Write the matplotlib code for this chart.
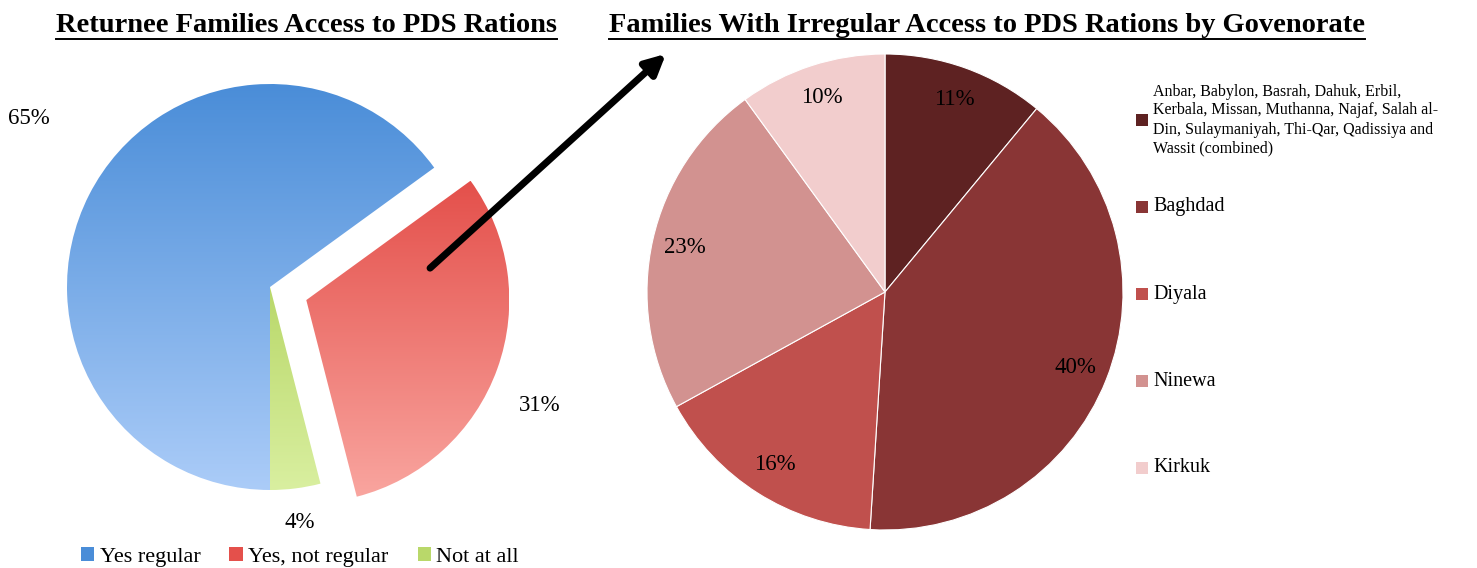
import numpy as np
import matplotlib.pyplot as plt
from matplotlib.colors import LinearSegmentedColormap
from matplotlib.patches import Patch

plt.rcParams['font.family'] = ['Liberation Serif', 'DejaVu Serif']

# left pie: returnee access
access_labels = ['Yes regular', 'Yes, not regular', 'Not at all']
access_values = [65, 31, 4]
access_top = ['#4a8dd8', '#e4504b', '#b9d86a']
access_bottom = ['#abccf8', '#f9a59f', '#d9efa0']

# right pie: irregular access by governorate
gov_labels = ['Anbar, Babylon, Basrah, Dahuk, Erbil,\nKerbala, Missan, Muthanna, Najaf, Salah al-\n'
              'Din, Sulaymaniyah, Thi-Qar, Qadissiya and\nWassit (combined)',
              'Baghdad', 'Diyala', 'Ninewa', 'Kirkuk']
gov_values = [11, 40, 16, 23, 10]
gov_colors = ['#5e2222', '#893535', '#c0504d', '#d29290', '#f2cdcd']

W, H = 1477, 568
fig = plt.figure(figsize=(W / 100, H / 100), dpi=100)


def px_axes(cx, cy, r, span):
    half = r * span
    ax = fig.add_axes([(cx - half) / W, (H - cy - half) / H, 2 * half / W, 2 * half / H])
    ax.axis('off')
    return ax


# ---- left pie with gradient fill
ax1 = px_axes(270, 287, 203, 1.5)
wedges, _ = ax1.pie(access_values, startangle=-90, counterclock=False,
                    explode=[0, 0.19, 0], radius=1,
                    wedgeprops=dict(linewidth=0))
grad = np.linspace(0, 1, 256).reshape(-1, 1)
for w, c0, c1 in zip(wedges, access_top, access_bottom):
    w.set_facecolor('none')
    bb = w.get_path().get_extents()
    cmap = LinearSegmentedColormap.from_list('g', [c1, c0])
    im = ax1.imshow(grad, extent=[bb.x0, bb.x1, bb.y0, bb.y1], origin='lower',
                    cmap=cmap, aspect='auto', interpolation='bilinear')
    im.set_clip_path(w)
ax1.set_xlim(-1.5, 1.5)
ax1.set_ylim(-1.5, 1.5)

label_dist = [1.45, 1.45, 1.17]
label_nudge = [-8, -4, 0]
for w, v, d, n in zip(wedges, access_values, label_dist, label_nudge):
    a = np.deg2rad((w.theta1 + w.theta2) / 2 + n)
    ax1.text(d * np.cos(a), d * np.sin(a), f'{v}%', ha='center', va='center',
             fontsize=16.5)

# ---- right pie
ax2 = px_axes(885, 292, 238, 1.1)
ax2.pie(gov_values, colors=gov_colors, startangle=90, counterclock=False,
        autopct='%.0f%%', pctdistance=0.86, textprops=dict(fontsize=16.5),
        wedgeprops=dict(edgecolor='white', linewidth=0.8))
ax2.set_xlim(-1.1, 1.1)
ax2.set_ylim(-1.1, 1.1)

# ---- overlay in pixel coordinates for titles, arrow, legends
ov = fig.add_axes([0, 0, 1, 1])
ov.set_xlim(0, W)
ov.set_ylim(H, 0)
ov.axis('off')

titles = [(306, 'Returnee Families Access to PDS Rations'),
          (987, 'Families With Irregular Access to PDS Rations by Govenorate')]
fig.canvas.draw()
renderer = fig.canvas.get_renderer()
for x, t in titles:
    txt = ov.text(x, 25, t, ha='center', va='center', fontsize=20.5, fontweight='bold')
    bb = txt.get_window_extent(renderer)
    (x0, y0), (x1, _) = ov.transData.inverted().transform([[bb.x0, bb.y0], [bb.x1, bb.y1]])
    ov.plot([x0, x1], [y0 + 1, y0 + 1], color='black', lw=1.4)

ov.annotate('', xy=(668, 52), xytext=(428, 270),
            arrowprops=dict(arrowstyle='-|>', lw=5, color='black', mutation_scale=30))

# left legend
handles = [Patch(facecolor=c) for c in access_top]
ov.legend(handles, access_labels, ncol=3, loc='center', bbox_to_anchor=(300, 557),
          bbox_transform=ov.transData, frameon=False, fontsize=16,
          handlelength=0.6, handleheight=0.6, handletextpad=0.25, columnspacing=1.3,
          borderpad=0)

# right legend
for i, (lab, c) in enumerate(zip(gov_labels, gov_colors)):
    y = 120 + 87 * i
    ov.scatter(1142, y, marker='s', s=75, color=c, linewidths=0)
    fs = 11.5 if '\n' in lab else 14.5
    ov.text(1153, y, lab, ha='left', va='center', fontsize=fs, linespacing=1.25)

fig.savefig('out.png', dpi=100)
